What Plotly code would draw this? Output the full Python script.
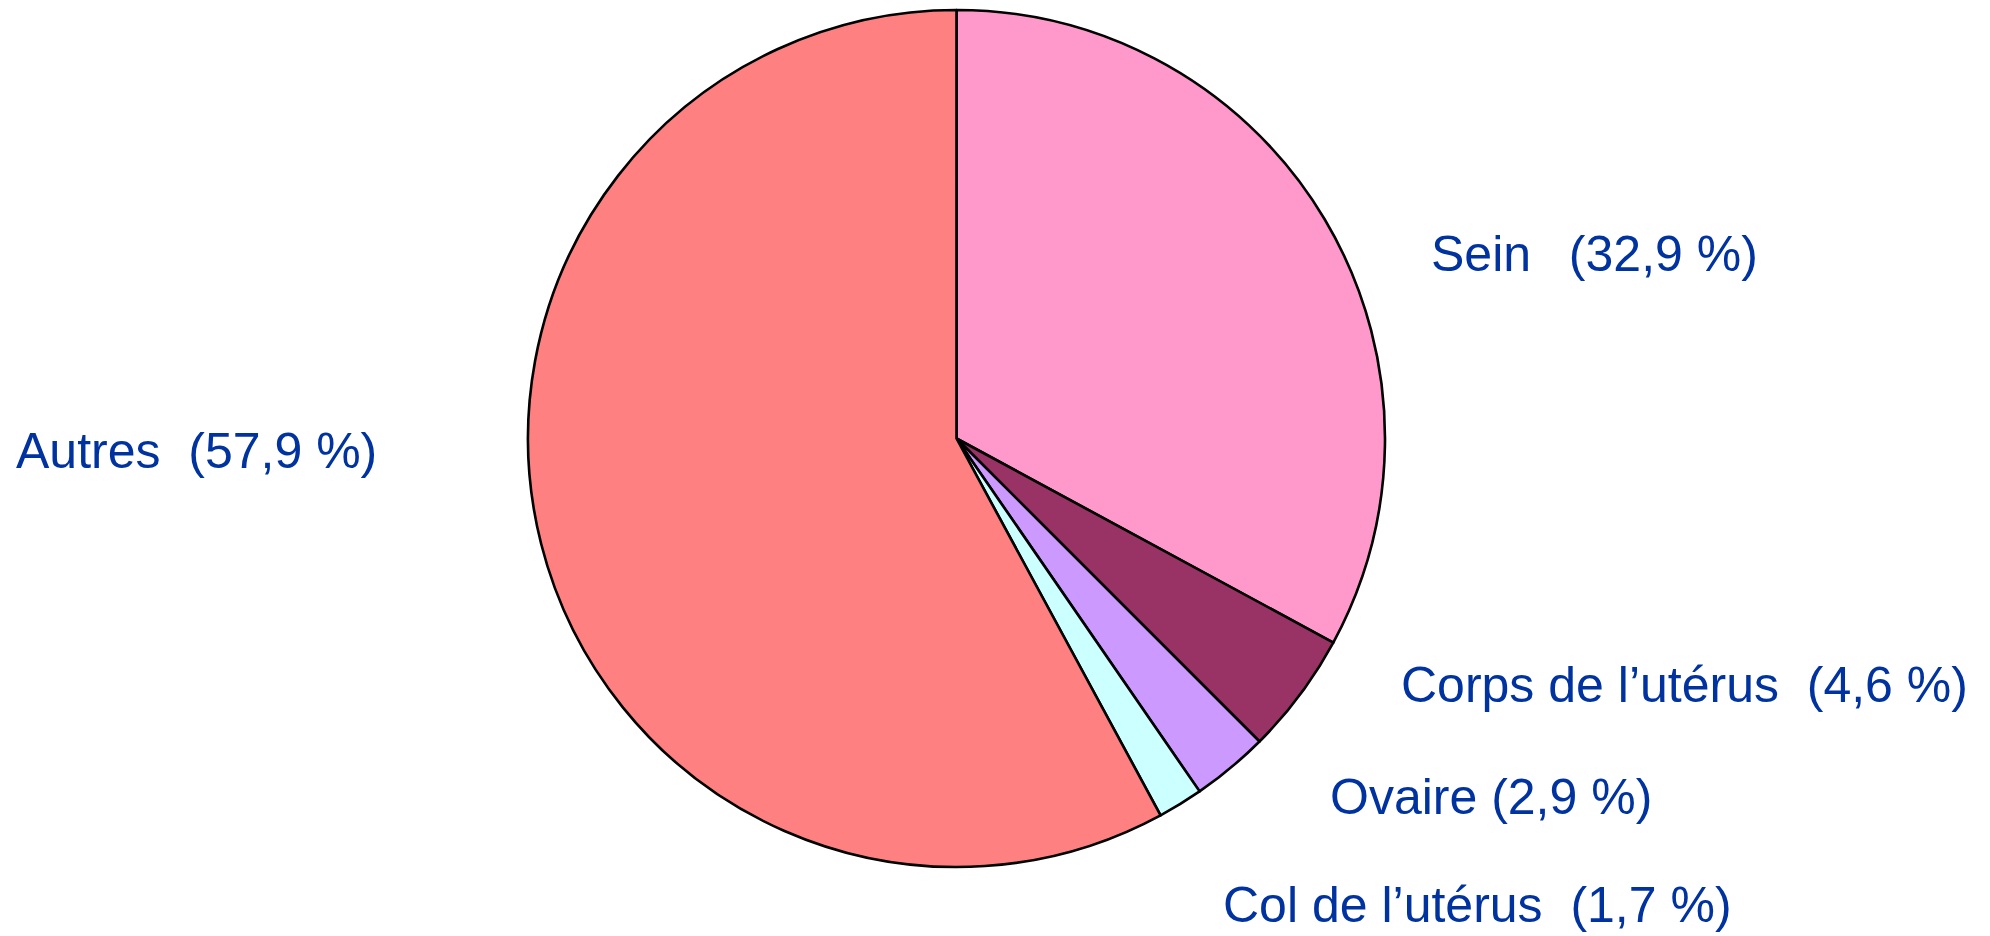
import plotly.graph_objects as go

categories = ["Sein", "Corps de l’utérus", "Ovaire", "Col de l’utérus", "Autres"]
values = [32.9, 4.6, 2.9, 1.7, 57.9]
colors = ["#FF99CC", "#993366", "#CC99FF", "#CCFFFF", "#FF8080"]
label_texts = [
    "Sein\u00a0\u00a0\u2009(32,9 %)",
    "Corps de l’utérus\u00a0\u00a0(4,6 %)",
    "Ovaire (2,9 %)",
    "Col de l’utérus\u00a0\u00a0(1,7 %)",
    "Autres\u00a0\u00a0(57,9 %)",
]
# label anchor positions in pixels (left x, middle y)
label_px = [(1429, 254), (1399, 685), (1328, 797), (1221, 905), (14, 451)]

W, H = 1990, 936
fig = go.Figure(go.Pie(
    labels=categories,
    values=values,
    sort=False,
    direction="clockwise",
    rotation=0,
    marker=dict(colors=colors, line=dict(color="black", width=2.6)),
    textinfo="none",
    hoverinfo="label+percent",
    domain=dict(x=[528 / W, 1385 / W], y=[1 - 867 / H, 1 - 10 / H]),
))

for txt, (px, py) in zip(label_texts, label_px):
    fig.add_annotation(
        x=px / W, y=1 - py / H, xref="paper", yref="paper",
        xanchor="left", yanchor="middle", text=txt, showarrow=False,
        font=dict(family="Liberation Sans, Arial, sans-serif", size=50, color="#0033A0"),
    )

fig.update_layout(
    width=W, height=H, margin=dict(l=0, r=0, t=0, b=0),
    showlegend=False, paper_bgcolor="white", plot_bgcolor="white",
)
fig.write_html(
    "out.html",
    config={"displayModeBar": False},
    post_script="document.body.style.margin='0';document.body.style.overflow='hidden';",
)
